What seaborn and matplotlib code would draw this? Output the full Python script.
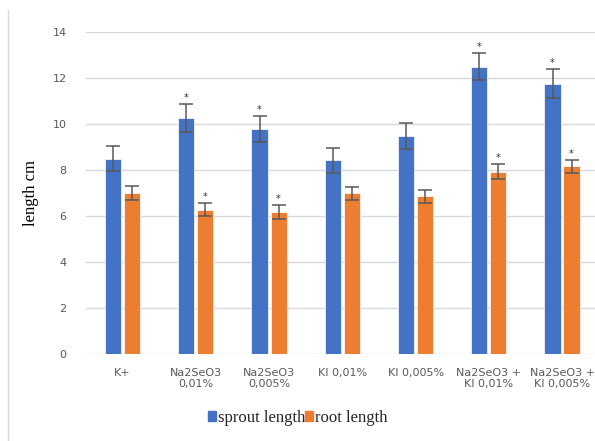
import matplotlib
matplotlib.use("Agg")
import matplotlib.pyplot as plt
import seaborn as sns
import pandas as pd
from matplotlib.lines import Line2D
from matplotlib.patches import Patch

## DATA
groups = ["K+", "Na2SeO3\n0,01%", "Na2SeO3\n0,005%", "KI 0,01%", "KI 0,005%",
          "Na2SeO3 +\nKI 0,01%", "Na2SeO3 +\nKI 0,005%"]
sprout = [8.5, 10.27, 9.78, 8.42, 9.48, 12.5, 11.75]
sprout_err = [0.55, 0.6, 0.57, 0.55, 0.57, 0.6, 0.62]
root = [7.0, 6.28, 6.17, 6.98, 6.85, 7.93, 8.17]
root_err = [0.3, 0.3, 0.32, 0.28, 0.3, 0.33, 0.28]
signif = [False, True, True, False, False, True, True]

blue = "#4472c4"
orange = "#ed7d31"
grey = "#595959"

df = pd.DataFrame({
    "group": groups * 2,
    "series": ["sprout length"] * 7 + ["root length"] * 7,
    "value": sprout + root,
    "err": sprout_err + root_err,
})

sns.set_style("white")
fig = plt.figure(figsize=(5.95, 4.41), dpi=100)
ax = fig.add_axes([86 / 595, 1 - 354 / 441, 1 - 86 / 595, (354 - 32) / 441])

sns.barplot(data=df, x="group", y="value", hue="series", order=groups,
            palette=[blue, orange], saturation=1, width=0.52, gap=0.15,
            errorbar=None, legend=False, edgecolor="white", linewidth=0.5,
            ax=ax)

# error bars and significance marks, placed on the drawn bars
bars = [p for p in ax.patches if p.get_height() > 0]
errs = sprout_err + root_err
marks = signif + signif
for p, e, m in zip(bars, errs, marks):
    xc = p.get_x() + p.get_width() / 2
    h = p.get_height()
    ax.errorbar(xc, h, yerr=e, color=grey, capsize=5, elinewidth=1.1,
                capthick=1.1)
    if m:
        ax.text(xc, h + e + 0.05, "*", ha="center", va="bottom",
                fontsize=7, color="#333333")

ax.set_ylim(0, 14)
ax.set_yticks(range(0, 15, 2))
ax.set_xlim(-0.5, 6.45)
ax.grid(axis="y", color="#d9d9d9", linewidth=1)
ax.set_axisbelow(True)
for s in ["top", "right", "left", "bottom"]:
    ax.spines[s].set_visible(False)
ax.tick_params(axis="both", length=0, colors=grey, labelsize=8)
ax.tick_params(axis="y", pad=14)
ax.tick_params(axis="x", pad=10)
ax.set_xlabel("")
ax.set_ylabel("length cm", family="Liberation Serif", fontsize=12,
              color="black", labelpad=10)

handles = [Patch(color=blue), Patch(color=orange)]
fig.legend(handles, ["sprout length", "root length"], loc="center",
           bbox_to_anchor=(0.5, 1 - 418 / 441), ncol=2, frameon=False,
           prop={"family": "Liberation Serif", "size": 12},
           handlelength=0.5, handleheight=0.5, handletextpad=0.1,
           columnspacing=0.0, borderaxespad=0)

# chart frame line on the left
fig.add_artist(Line2D([8 / 595, 8 / 595], [0, 1 - 10 / 441],
                      color="#d9d9d9", linewidth=1))

fig.savefig("out.png", dpi=100)
